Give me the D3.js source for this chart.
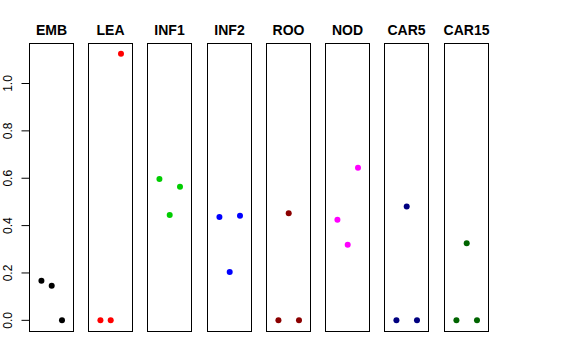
<!DOCTYPE html>
<html><head><meta charset="utf-8">
<script src="https://cdn.jsdelivr.net/npm/d3@7"></script>
<style>body{margin:0;background:#fff}svg{display:block}</style>
</head><body>
<svg id="c" width="576" height="360"></svg>
<script>
const categories = ["EMB","LEA","INF1","INF2","ROO","NOD","CAR5","CAR15"];
const colors = ["#000000","#FF0000","#00CD00","#0000FF","#8B0000","#FF00FF","#000080","#006400"];
const values = [
  [0.167, 0.146, 0.0],
  [0.0, 0.0, 1.126],
  [0.597, 0.445, 0.564],
  [0.436, 0.204, 0.442],
  [0.0, 0.452, 0.0],
  [0.425, 0.319, 0.644],
  [0.0, 0.481, 0.0],
  [0.0, 0.326, 0.0]
];
const yTicks = [0, 0.2, 0.4, 0.6, 0.8, 1.0];

(function () {
const svg = d3.select("#c");
const font = "'Liberation Sans', Arial, Helvetica, sans-serif";
const pTop = 43, pBottom = 331;
const band = d3.scaleBand().domain(categories).range([29, 488]).paddingInner(0.25);
const ymax = d3.max(values.flat());
const pad = ymax * 0.04;
const y = d3.scaleLinear().domain([-pad, ymax + pad]).range([pBottom, pTop]);
const x = d3.scaleLinear().domain([-0.16, 4.16]).range([0, band.bandwidth()]);

categories.forEach((c, i) => {
  const x0 = Math.round(band(c)) + 0.5;
  const w = Math.round(band.bandwidth());
  const g = svg.append("g");
  g.append("rect").attr("x", x0).attr("y", pTop + 0.5).attr("width", w).attr("height", pBottom - pTop)
    .attr("fill", "none").attr("stroke", "#000").attr("stroke-width", 1);
  g.append("text").attr("x", x0 + w / 2).attr("y", 34.5).attr("text-anchor", "middle")
    .attr("font-family", font).attr("font-weight", "bold").attr("font-size", 14).text(c);
  g.selectAll("circle").data(values[i]).join("circle")
    .attr("cx", (d, j) => x0 + x(j + 1)).attr("cy", d => y(d)).attr("r", 3)
    .attr("fill", colors[i]);
});

const axisX = Math.round(band(categories[0])) + 0.5;
const ax = svg.append("g");
ax.append("line").attr("x1", axisX).attr("x2", axisX).attr("y1", y(0)).attr("y2", y(1))
  .attr("stroke", "#000");
yTicks.forEach(t => {
  ax.append("line").attr("x1", axisX - 8).attr("x2", axisX).attr("y1", y(t)).attr("y2", y(t)).attr("stroke", "#000");
  ax.append("text").attr("transform", `translate(12.3,${y(t)}) rotate(-90)`)
    .attr("text-anchor", "middle").attr("font-family", font).attr("font-size", 12)
    .text(d3.format(".1f")(t));
});
})();
</script>
</body></html>
